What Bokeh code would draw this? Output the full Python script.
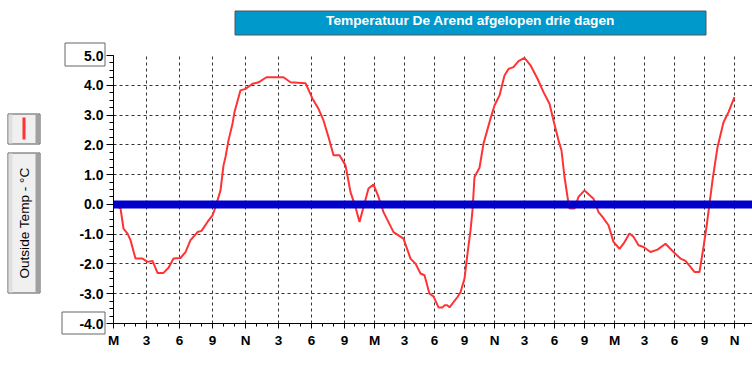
import math
from bokeh.plotting import figure
from bokeh.models import Range1d, FixedTicker, NumeralTickFormatter, Span
from bokeh.core.properties import value
from bokeh.embed import file_html
from bokeh.resources import INLINE

# ---------------- data ----------------
title_text = "Temperatuur De Arend afgelopen drie dagen"
series_label = "Outside Temp - °C"

# x axis: sample index along the time axis, with hour labels at these samples
tick_samples = [0, 33, 66, 99, 132, 165, 198, 231, 261, 291, 321, 351, 381,
                411, 441, 471, 501, 531, 561, 591, 621]
tick_labels = ["M", "3", "6", "9", "N", "3", "6", "9", "M", "3", "6", "9", "N",
               "3", "6", "9", "M", "3", "6", "9", "N"]
minor_samples = list(range(0, 232, 11)) + list(range(241, 640, 10))

y_ticks = [-4, -3, -2, -1, 0, 1, 2, 3, 4, 5]
y_minor = [-4 + 0.25 * i for i in range(37)]

sample = [0, 5, 7, 10, 14, 17, 22, 29, 34, 39, 44, 50, 55, 60, 67, 72, 77, 84,
          88, 94, 99, 102, 107, 110, 112, 115, 119, 121, 127, 132, 139, 145,
          153, 170, 177, 192, 199, 205, 210, 215, 220, 226, 232, 237, 242, 246,
          250, 255, 260, 265, 270, 280, 290, 297, 302, 307, 311, 316, 320, 325,
          329, 331, 334, 336, 344, 347, 351, 354, 357, 359, 361, 366, 370, 377,
          381, 386, 391, 395, 400, 405, 411, 417, 424, 430, 436, 440, 445, 448,
          451, 454, 456, 461, 465, 471, 480, 485, 489, 495, 500, 506, 510, 516,
          520, 525, 530, 537, 544, 552, 560, 567, 572, 581, 586, 590, 593, 596,
          599, 604, 610, 615, 621]
temp = [0.05, -0.1, -0.13, -0.81, -0.98, -1.2, -1.82, -1.82, -1.93, -1.9, -2.3,
        -2.3, -2.13, -1.82, -1.8, -1.6, -1.2, -0.93, -0.89, -0.59, -0.37, -0.09,
        0.47, 1.31, 1.59, 2.15, 2.71, 3.1, 3.83, 3.88, 4.05, 4.1, 4.27, 4.27,
        4.1, 4.07, 3.55, 3.21, 2.82, 2.26, 1.65, 1.65, 1.31, 0.41, -0.09, -0.59,
        -0.09, 0.53, 0.67, 0.25, -0.26, -0.93, -1.15, -1.82, -1.99, -2.32,
        -2.38, -3.0, -3.09, -3.46, -3.46, -3.39, -3.39, -3.46, -3.11, -2.95,
        -2.49, -1.65, -0.87, -0.2, 0.92, 1.23, 2.04, 2.88, 3.32, 3.66, 4.33,
        4.55, 4.61, 4.81, 4.92, 4.67, 4.22, 3.77, 3.38, 2.82, 2.15, 1.81, 0.92,
        0.25, -0.14, -0.14, 0.25, 0.47, 0.19, -0.26, -0.42, -0.70, -1.26,
        -1.49, -1.32, -0.98, -1.09, -1.37, -1.43, -1.6, -1.52, -1.32, -1.6,
        -1.82, -1.9, -2.27, -2.27, -1.43, -0.76, 0.02, 0.81, 1.92, 2.76, 3.1,
        3.6]
zero_level = 0.0

# ---------------- layout constants (pixels) ----------------
W, H = 752, 370
FL, FT, FH = 113, 55, 268
FW = W - FL
X0, X1, Y0, Y1 = 0, FW, -4, 5
FONT = "Liberation Sans"

p = figure(width=W, height=H, output_backend="svg", toolbar_location=None,
           x_range=Range1d(X0, X1), y_range=Range1d(Y0, Y1),
           min_border_left=FL, min_border_top=FT, min_border_right=0,
           min_border_bottom=H - FT - FH)
p.outline_line_color = None
p.background_fill_color = "white"
p.border_fill_color = "white"

# axes
xa = p.xaxis[0]
xa.ticker = FixedTicker(ticks=tick_samples, minor_ticks=minor_samples)
xa.major_label_overrides = {t: l for t, l in zip(tick_samples, tick_labels)}
xa.major_tick_out, xa.major_tick_in = 5, 0
xa.minor_tick_out, xa.minor_tick_in = 3, 0
xa.major_label_standoff = 4
ya = p.yaxis[0]
ya.ticker = FixedTicker(ticks=y_ticks, minor_ticks=y_minor)
ya.formatter = NumeralTickFormatter(format="0.0")
ya.major_tick_out, ya.major_tick_in = 7, 0
ya.minor_tick_out, ya.minor_tick_in = 4, 0
ya.major_label_standoff = 3
for ax in (xa, ya):
    ax.axis_line_color = "black"
    ax.major_tick_line_color = "black"
    ax.minor_tick_line_color = "black"
    ax.major_label_text_font = FONT
    ax.major_label_text_font_style = "bold"
    ax.major_label_text_color = "black"
xa.major_label_text_font_size = "13.5px"
ya.major_label_text_font_size = "14px"

for g in (p.xgrid[0], p.ygrid[0]):
    g.grid_line_color = "#333333"
    g.grid_line_dash = "3 3"
    g.grid_line_width = 1

# series
p.line(sample, temp, line_color="#FF3333", line_width=2)
p.add_layout(Span(location=zero_level, dimension="width",
                  line_color="#0000CC", line_width=8))


# ---------------- decorations outside the plot area ----------------
def dx(px):   # canvas px -> x data coordinate
    return X0 + (px - FL) * (X1 - X0) / FW


def dy(py):   # canvas px -> y data coordinate
    return Y1 - (py - FT) * (Y1 - Y0) / FH


def box(l, r, t, b, fill, line=None):
    p.quad(left=dx(l), right=dx(r), top=dy(t), bottom=dy(b),
           fill_color=fill, line_color=line, line_width=1, level="overlay")


# title bar
box(234.5, 705.5, 10.5, 34.5, "#0099CC", "#555555")
p.text(x=[dx(470)], y=[dy(20)], text=[title_text], text_align="center",
       text_baseline="middle", text_color="white", text_font=value(FONT),
       text_font_style="bold", text_font_size="13.7px", level="overlay")


# legend buttons
def button(t, b):
    box(7.5, 39.5, t, b, "#F0F0F0", "#555555")
    box(8, 12, t + 0.5, b - 0.5, "#E0E0E0")
    box(35, 39, t + 0.5, b - 0.5, "#A0A0A0")


button(113.5, 143.5)
box(22, 25, 117, 139, "#FF3333")
button(152.5, 292.5)
p.text(x=[dx(24)], y=[dy(222.5)], text=[series_label], angle=math.pi / 2,
       text_align="center", text_baseline="middle", text_color="black",
       text_font=value(FONT), text_font_size="13.6px", level="overlay")

# boxes around the axis limit labels
box(64.5, 104.5, 42.5, 65.5, None, "#666666")
box(61.5, 104.5, 311.5, 333.5, None, "#666666")

open("out.html", "w").write(file_html(p, INLINE))
